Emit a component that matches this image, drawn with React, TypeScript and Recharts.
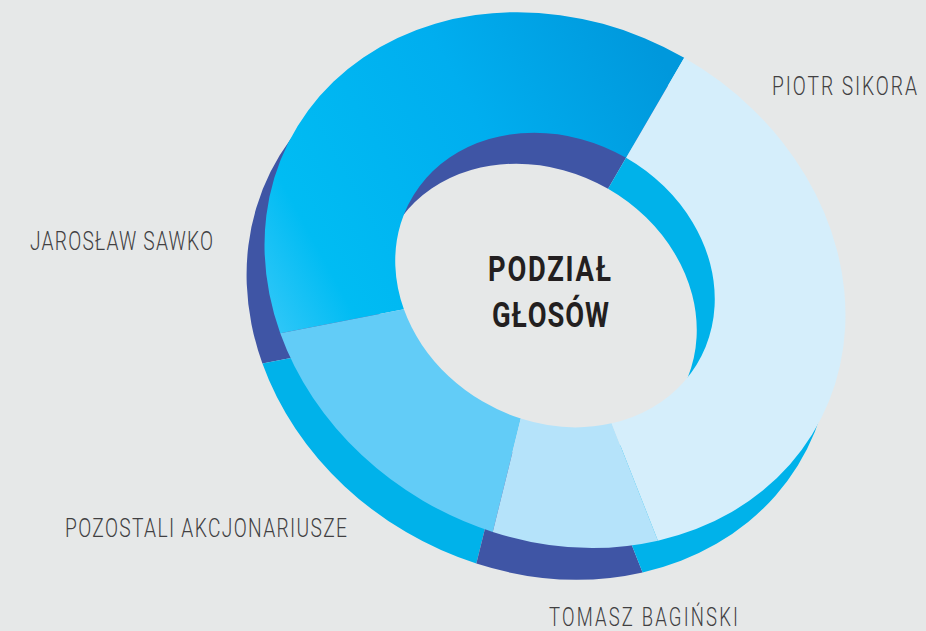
import { Cell, Pie, PieChart, Sector } from "recharts"

const SLICE_NAMES = ["Jarosław Sawko", "Pozostali akcjonariusze", "Tomasz Bagiński", "Piotr Sikora"]
const SLICE_VALUES = [37.6, 16.3, 9.2, 36.9]
const LABEL_TEXTS = ["PIOTR SIKORA", "JAROSŁAW SAWKO", "POZOSTALI AKCJONARIUSZE", "TOMASZ BAGIŃSKI"]
const TITLE_TEXTS = ["PODZIAŁ", "GŁOSÓW"]

const TOP_COLORS = ["url(#sawkoFill)", "#62ccf7", "#b5e3fa", "#d5eefb"]
const WALL_COLORS = ["#3f55a5", "#00b2ea", "#3f55a5", "#00b2ea"]

// where the texts sit: left, baseline, width, font size
const LABEL_BOXES = [
  [772, 95, 145, 26],
  [30, 250, 183, 26],
  [65, 537, 282, 26],
  [549, 626, 189, 25],
]
const TITLE_BOXES = [
  [488, 281, 123, 36],
  [492, 327, 117, 36],
]

const FONT = "Roboto, sans-serif"
const LABEL_SQUEEZE = 0.74
const TITLE_SQUEEZE = 0.76
const TILT = 29
const SQUASH = 0.857
const CX = 555
const CY = 280

const chartData = SLICE_NAMES.map((name, i) => ({ name, value: SLICE_VALUES[i] }))

// tilted ellipse: the sectors are circles, squashed then rotated round their own centre
function TiltedSector(props: any) {
  const { cx, cy } = props
  return (
    <g transform={`translate(${cx} ${cy}) rotate(${TILT}) scale(1 ${SQUASH}) translate(${-cx} ${-cy})`}>
      <Sector {...props} stroke="none" />
    </g>
  )
}

function ChartText({ text, box, weight, color, squeeze }: any) {
  const [x, y, w, size] = box
  return (
    <g transform={`translate(${x} ${y}) scale(${squeeze} 1)`}>
      <text x={0} y={0} fontFamily={FONT} fontSize={size} fontWeight={weight} fill={color} textLength={w / squeeze}>
        {text}
      </text>
    </g>
  )
}

export default function App() {
  return (
    <div style={{ position: "fixed", left: 0, top: 0, width: 926, height: 631, background: "#e6e8e8", overflow: "hidden" }}>
      <PieChart width={926} height={631} margin={{ top: 0, right: 0, bottom: 0, left: 0 }}>
        <defs>
          <linearGradient
            id="sawkoFill"
            gradientUnits="userSpaceOnUse"
            x1={270}
            y1={340}
            x2={690}
            y2={110}
            gradientTransform={`translate(${CX} ${CY}) scale(1 ${1 / SQUASH}) rotate(${-TILT}) translate(${-CX} ${-CY})`}
          >
            <stop offset="0" stopColor="#35c8f8" />
            <stop offset="0.18" stopColor="#00bcf3" />
            <stop offset="0.6" stopColor="#00aeef" />
            <stop offset="1" stopColor="#0098dc" />
          </linearGradient>
        </defs>
        {/* outer wall */}
        <Pie
          data={chartData}
          dataKey="value"
          cx={CX - 16}
          cy={CY + 30}
          innerRadius={220}
          outerRadius={302}
          startAngle={89}
          endAngle={449}
          stroke="none"
          shape={TiltedSector}
          isAnimationActive={false}
        >
          {chartData.map((entry, index) => (
            <Cell key={entry.name} fill={WALL_COLORS[index]} />
          ))}
        </Pie>
        {/* wall inside the hole */}
        <Pie
          data={chartData}
          dataKey="value"
          cx={CX - 18}
          cy={CY + 31}
          innerRadius={165}
          outerRadius={230}
          startAngle={89}
          endAngle={449}
          stroke="none"
          shape={TiltedSector}
          isAnimationActive={false}
        >
          {chartData.map((entry, index) => (
            <Cell key={entry.name} fill={WALL_COLORS[index]} />
          ))}
        </Pie>
        <Pie
          data={chartData}
          dataKey="value"
          cx={CX}
          cy={CY}
          innerRadius={165}
          outerRadius={300}
          startAngle={89}
          endAngle={449}
          stroke="none"
          shape={TiltedSector}
          isAnimationActive={false}
        >
          {chartData.map((entry, index) => (
            <Cell key={entry.name} fill={TOP_COLORS[index]} />
          ))}
        </Pie>
        {LABEL_TEXTS.map((text, i) => (
          <ChartText key={text} text={text} box={LABEL_BOXES[i]} weight={300} color="#414042" squeeze={LABEL_SQUEEZE} />
        ))}
        {TITLE_TEXTS.map((text, i) => (
          <ChartText key={text} text={text} box={TITLE_BOXES[i]} weight={700} color="#231f20" squeeze={TITLE_SQUEEZE} />
        ))}
      </PieChart>
    </div>
  )
}
